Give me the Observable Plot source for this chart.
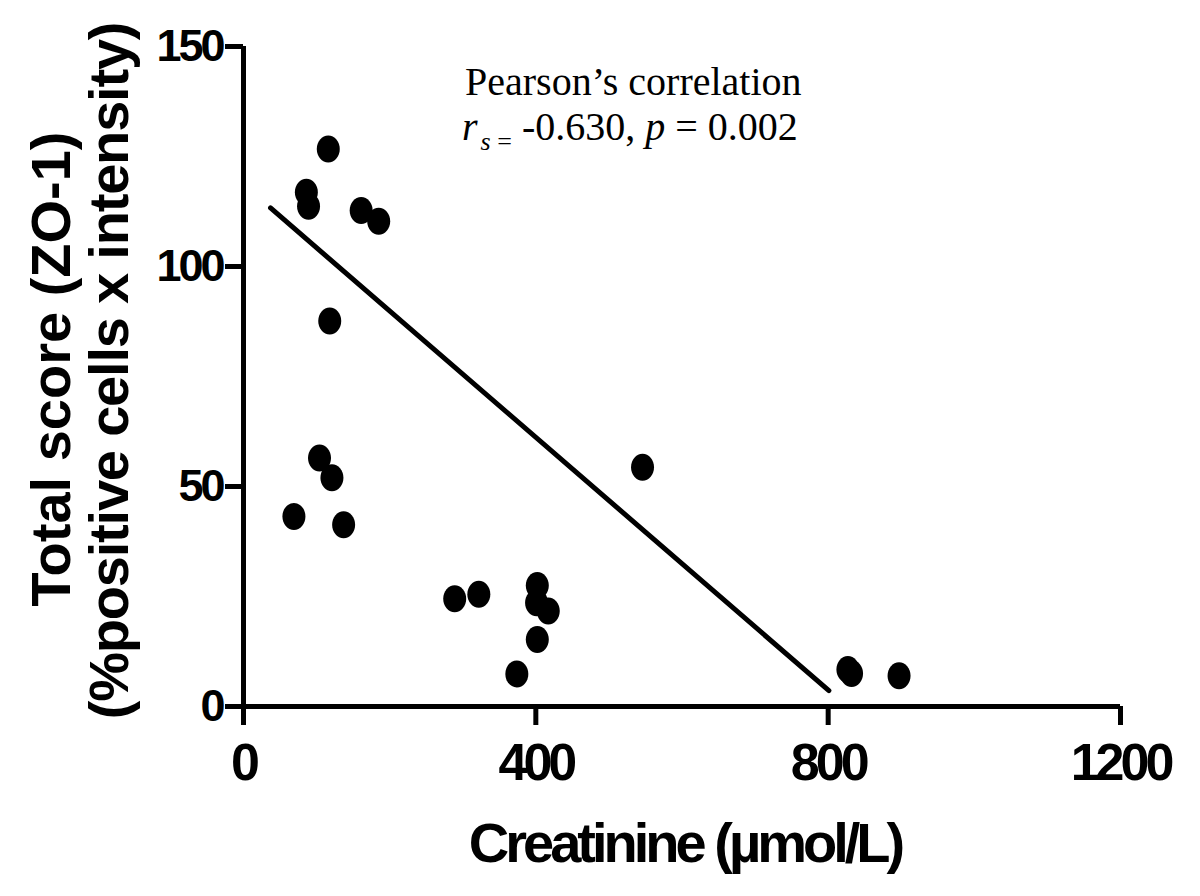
<!DOCTYPE html>
<html>
<head>
<meta charset="utf-8">
<script src="https://cdn.jsdelivr.net/npm/d3@7"></script>
<script src="https://cdn.jsdelivr.net/npm/@observablehq/plot@0.6"></script>
<style>
  html, body { margin: 0; padding: 0; background: #fff; }
  #chart svg { display: block; background: #fff; }
  g[aria-label="y-axis tick label"] text { font-family: "Liberation Sans", Arial, sans-serif; font-weight: bold; font-size: 45px; letter-spacing: -3px; }
  g[aria-label="x-axis tick label"] text { font-family: "Liberation Sans", Arial, sans-serif; font-weight: bold; font-size: 52px; letter-spacing: -4px; }
  .axis-title { font-family: "Liberation Sans", Arial, sans-serif; font-weight: bold; font-size: 56px; fill: #000; }
  .annot { font-family: "Liberation Serif", "Times New Roman", serif; font-size: 40px; fill: #000; }
</style>
</head>
<body>
<div id="chart"></div>
<script>
// ---- data ----
const creatinine = [116, 86, 89, 161, 185, 118, 104, 121, 69, 137, 546, 289, 322, 402, 401, 417, 402, 374, 827, 832, 897];
const zo1Score   = [126.7, 116.9, 113.7, 112.7, 110.3, 87.6, 56.5, 52.0, 43.2, 41.3, 54.4, 24.5, 25.5, 27.5, 23.6, 21.7, 15.2, 7.4, 8.4, 7.5, 7.0];
const fitX = [37, 801];
const fitY = [113.3, 3.6];
const xTicks = [0, 400, 800, 1200];
const yTicks = [0, 50, 100, 150];
const xTitle = "Creatinine (\u00b5mol/L)";
const yTitle1 = "Total score (ZO-1)";
const yTitle2 = "(%positive cells x intensity)";
const annotLine1 = "Pearson\u2019s correlation";
const rsValue = "-0.630";
const pValue = "0.002";

const points = creatinine.map((c, i) => ({creatinine: c, score: zo1Score[i]}));
const fit = fitX.map((x, i) => ({x, y: fitY[i]}));

// slightly tall elliptical dot, as in the reference
const ellipse = {
  draw(ctx, size) {
    const r = Math.sqrt(size / Math.PI);
    const rx = r * 0.92, ry = r * 1.08, k = 0.5523;
    ctx.moveTo(rx, 0);
    ctx.bezierCurveTo(rx, k * ry, k * rx, ry, 0, ry);
    ctx.bezierCurveTo(-k * rx, ry, -rx, k * ry, -rx, 0);
    ctx.bezierCurveTo(-rx, -k * ry, -k * rx, -ry, 0, -ry);
    ctx.bezierCurveTo(k * rx, -ry, rx, -k * ry, rx, 0);
    ctx.closePath();
  }
};

const plot = Plot.plot({
  width: 1200,
  height: 896,
  marginLeft: 243,
  marginRight: 80,
  marginTop: 46,
  marginBottom: 190,
  style: {background: "#fff", color: "#000"},
  x: {domain: [0, 1200], ticks: xTicks, label: null},
  y: {domain: [0, 150], ticks: yTicks, label: null},
  marks: [
    Plot.axisY(yTicks, {tickSize: 18, tickPadding: 3, strokeWidth: 5, label: null, stroke: "#000", tickFormat: d => String(d)}),
    Plot.axisX(xTicks, {tickSize: 19, tickPadding: 18, strokeWidth: 5, label: null, stroke: "#000", tickFormat: d => String(d)}),
    Plot.ruleY([0], {stroke: "#000", strokeWidth: 5}),
    Plot.ruleX([0], {stroke: "#000", strokeWidth: 5}),
    Plot.line(fit, {x: "x", y: "y", stroke: "#000", strokeWidth: 5, strokeLinecap: "round"}),
    Plot.dot(points, {x: "creatinine", y: "score", r: 12.5, symbol: ellipse, fill: "#000", stroke: "none"})
  ]
});

const svg = d3.select(plot);

// y-axis title (two lines, rotated)
svg.append("text").attr("class", "axis-title")
  .attr("transform", "translate(70,369) rotate(-90)")
  .attr("text-anchor", "middle").text(yTitle1);
svg.append("text").attr("class", "axis-title")
  .attr("transform", "translate(128,371) rotate(-90)")
  .attr("text-anchor", "middle").attr("letter-spacing", "-1.2px").text(yTitle2);

// x-axis title
svg.append("text").attr("class", "axis-title")
  .attr("x", 685).attr("y", 862)
  .attr("text-anchor", "middle").attr("letter-spacing", "-4px").text(xTitle);

// correlation annotation
svg.append("text").attr("class", "annot").attr("text-anchor", "start")
  .attr("x", 465).attr("y", 95).text(annotLine1);
const t2 = svg.append("text").attr("class", "annot").attr("text-anchor", "start")
  .attr("x", 462).attr("y", 140);
t2.append("tspan").attr("font-style", "italic").text("r");
t2.append("tspan").attr("font-style", "italic").attr("font-size", "26px").attr("dx", 3).attr("dy", 10).text("s");
t2.append("tspan").attr("font-size", "26px").text(" =");
t2.append("tspan").attr("dy", -10).attr("dx", 0).text(" " + rsValue + ", ");
t2.append("tspan").attr("font-style", "italic").text("p");
t2.append("tspan").text(" = " + pValue);

document.getElementById("chart").appendChild(plot);
</script>
</body>
</html>
